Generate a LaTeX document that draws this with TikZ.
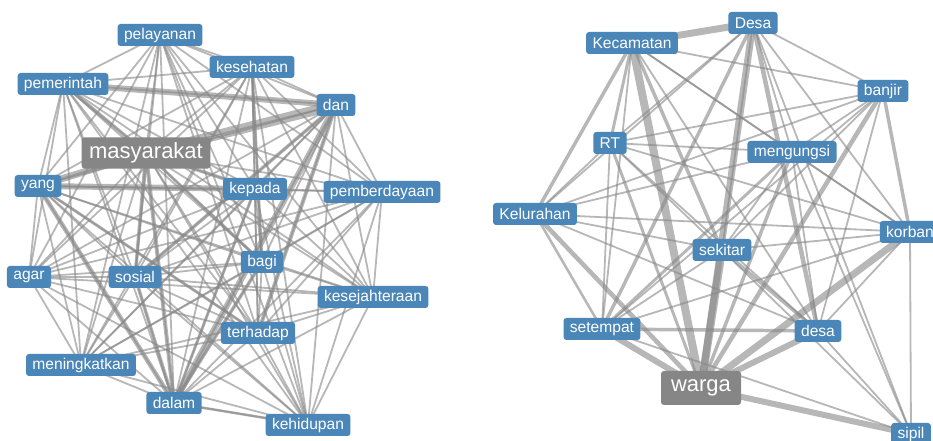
\documentclass[tikz,border=0pt]{standalone}
\usepackage{fontspec}
\setmainfont{Liberation Sans}
\usepackage{tikz}
\usetikzlibrary{backgrounds}
\definecolor{wdblue}{RGB}{74,134,183}
\definecolor{hubgray}{RGB}{134,134,134}
\definecolor{lnkgray}{RGB}{135,135,135}
\tikzset{wd/.style={rectangle,rounded corners=2.2pt,fill=wdblue,text=white,font=\fontsize{11.7}{13}\selectfont,inner xsep=4.8pt,inner ysep=0pt,minimum height=16.5pt},
  hub/.style={wd,fill=hubgray,font=\fontsize{16.5}{18}\selectfont,inner xsep=5.6pt,minimum height=23.5pt},
  lnk/.style={draw=lnkgray,draw opacity=0.6,line width=1.35pt}}

\begin{document}
\begin{tikzpicture}[x=0.75pt,y=-0.75pt]
        \useasboundingbox (0,0) rectangle (933,441);
        \clip (0,0) rectangle (933,441);
        \node[wd] (pelayanan) at (160,35) {pelayanan};
        \node[wd] (kesehatan) at (252,67) {kesehatan};
        \node[wd] (pemerintah) at (63,84) {pemerintah};
        \node[wd] (dan) at (336,105) {dan};
        \node[hub] (masyarakat) at (146,153) {masyarakat};
        \node[wd] (yang) at (38,186) {yang};
        \node[wd] (kepada) at (255,189) {kepada};
        \node[wd] (pemberdayaan) at (382,192) {pemberdayaan};
        \node[wd] (agar) at (29,277) {agar};
        \node[wd] (sosial) at (135,277) {sosial};
        \node[wd] (bagi) at (262,262) {bagi};
        \node[wd] (kesejahteraan) at (373,297) {kesejahteraan};
        \node[wd] (terhadap) at (258,333) {terhadap};
        \node[wd] (meningkatkan) at (81,365) {meningkatkan};
        \node[wd] (dalam) at (174,403) {dalam};
        \node[wd] (kehidupan) at (308,425) {kehidupan};
        \node[wd] (Desa) at (753,23) {Desa};
        \node[wd] (Kecamatan) at (632,43) {Kecamatan};
        \node[wd] (banjir) at (883,91) {banjir};
        \node[wd] (RT) at (610,143) {RT};
        \node[wd] (mengungsi) at (792,152) {mengungsi};
        \node[wd] (Kelurahan) at (535,214) {Kelurahan};
        \node[wd] (korban) at (910,232) {korban};
        \node[wd] (sekitar) at (722,250) {sekitar};
        \node[wd] (setempat) at (602,329) {setempat};
        \node[wd] (desa) at (818,331) {desa};
        \node[hub,minimum width=60pt,minimum height=25.5pt] (warga) at (701,388) {warga};
        \node[wd] (sipil) at (911,434) {sipil};
        \begin{pgfonlayer}{background}
        \def\leftwords{pelayanan,kesehatan,pemerintah,dan,masyarakat,yang,kepada,pemberdayaan,agar,sosial,bagi,kesejahteraan,terhadap,meningkatkan,dalam,kehidupan}
        \foreach \a [count=\i] in \leftwords {
          \foreach \b [count=\j] in \leftwords {
            \ifnum\i<\j \draw[lnk] (\a.center) -- (\b.center); \fi
          }
        }
        \foreach \a/\b/\w in {masyarakat/dan/7.5,pemerintah/dan/4.5,masyarakat/yang/5.2,yang/kepada/4.5,dan/dalam/4.5,dan/terhadap/3,dan/sosial/2.6,yang/dalam/3.4,masyarakat/dalam/3,masyarakat/kepada/2.6,masyarakat/sosial/2.6,kesehatan/bagi/2.2,sosial/dalam/2.6,pemerintah/masyarakat/2.6,masyarakat/bagi/2.2,yang/terhadap/2.2,kepada/dalam/2.2,bagi/dalam/2.6,dalam/kehidupan/1.9}
          \draw[lnk,line width=\w pt] (\a.center) -- (\b.center);
        \foreach \a/\b in {Kecamatan/banjir,Kecamatan/mengungsi,Kecamatan/korban,Kecamatan/setempat,Kecamatan/desa,
          Desa/banjir,Desa/RT,Desa/mengungsi,Desa/Kelurahan,Desa/korban,Desa/sekitar,Desa/sipil,
          banjir/RT,banjir/mengungsi,banjir/Kelurahan,banjir/sekitar,banjir/setempat,banjir/desa,
          RT/mengungsi,RT/Kelurahan,RT/korban,RT/sekitar,RT/setempat,RT/desa,
          mengungsi/Kelurahan,mengungsi/korban,mengungsi/sekitar,mengungsi/desa,mengungsi/sipil,
          Kelurahan/korban,Kelurahan/sekitar,Kelurahan/desa,
          korban/sekitar,korban/setempat,korban/desa,korban/sipil,
          sekitar/setempat,sekitar/sipil,setempat/sipil,desa/sipil}
          \draw[lnk] (\a.center) -- (\b.center);
        \foreach \a/\b/\w in {Kecamatan/Desa/5.2,Kecamatan/warga/6,Desa/warga/5.2,sekitar/warga/6,warga/korban/5.2,warga/desa/4.5,warga/setempat/4.5,warga/Kelurahan/3.4,warga/sipil/4.5,Kecamatan/Kelurahan/2.6,Kecamatan/RT/2.2,Kecamatan/sekitar/2.6,Desa/desa/3.4,Desa/setempat/2.6,banjir/warga/3.4,banjir/korban/2.6,sekitar/desa/2.6,setempat/desa/2.6,mengungsi/setempat/2.2,mengungsi/warga/2.6,RT/warga/2.2,Kelurahan/setempat/1.9}
          \draw[lnk,line width=\w pt] (\a.center) -- (\b.center);
        \end{pgfonlayer}
\end{tikzpicture}
\end{document}
